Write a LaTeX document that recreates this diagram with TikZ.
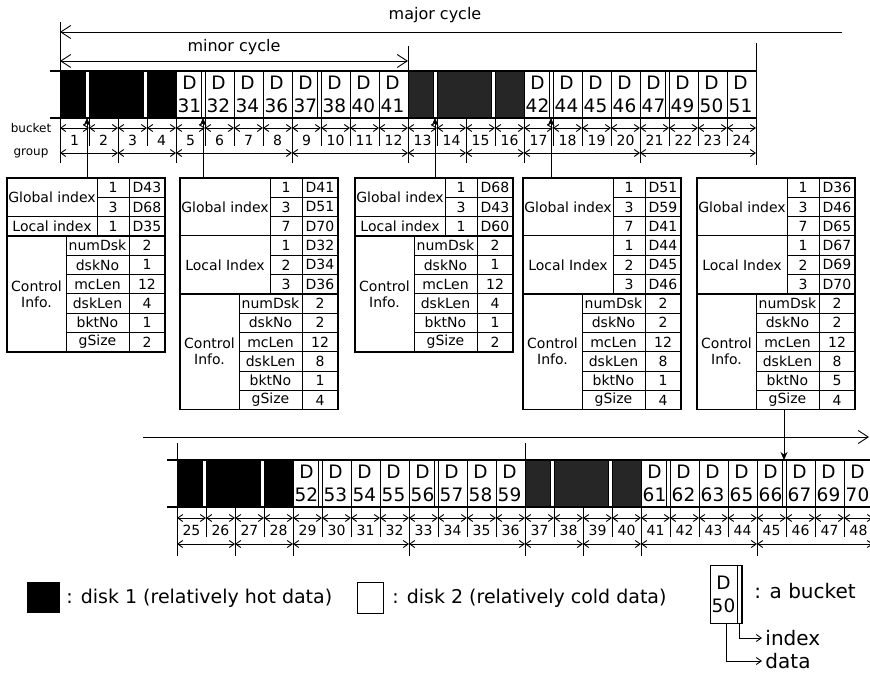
\documentclass[tikz,border=0pt]{standalone}
\usepackage{fontspec}
\setmainfont{DejaVu Sans}
\usetikzlibrary{arrows.meta,positioning}

\newcommand{\rowh}{19.3}
% one index table: name, left edge, global rows, local rows, global, local, control values
\newcommand{\infotab}[7]{%
  \begin{scope}[shift={(#2,178)}]
    \pgfmathsetmacro{\yl}{#3*\rowh}
    \pgfmathsetmacro{\yc}{(#3+#4)*\rowh}
    \pgfmathsetmacro{\yb}{(#3+#4+6)*\rowh}
    \node[tb, minimum height=\yb pt] (#1) at (0,0) {};
    \draw (0,\yl) -- (158,\yl) (90,0) -- (90,\yc) (122,0) -- (122,\yb) (59,\yc) -- (59,\yb);
    \draw[line width=1.6pt] (0,\yc) -- (158,\yc);
    \node (#1gl) at (45,\yl/2) {Global index};
    \node (#1ll) at (45,{(\yl+\yc)/2}) {\ifnum#4=1 Local index\else Local Index\fi};
    \node[align=center] (#1cl) at (29.5,{(\yc+\yb)/2}) {Control\\Info.};
    \foreach \ix/\dv [count=\j] in {#5} {
      \node (#1g\j) at (106,{(\j-0.5)*\rowh}) {\ix};
      \node (#1gv\j) at (140,{(\j-0.5)*\rowh}) {\dv};
      \ifnum\j>1 \draw (90,{(\j-1)*\rowh}) -- (158,{(\j-1)*\rowh}); \fi
    }
    \foreach \ix/\dv [count=\j] in {#6} {
      \node (#1l\j) at (106,{\yl+(\j-0.5)*\rowh}) {\ix};
      \node (#1lv\j) at (140,{\yl+(\j-0.5)*\rowh}) {\dv};
      \ifnum\j>1 \draw (90,{\yl+(\j-1)*\rowh}) -- (158,{\yl+(\j-1)*\rowh}); \fi
    }
    \foreach \pn [count=\j] in {numDsk,dskNo,mcLen,dskLen,bktNo,gSize} {
      \node (#1p\j) at (90.5,{\yc+(\j-0.5)*\rowh}) {\pn};
      \ifnum\j>1 \draw (59,{\yc+(\j-1)*\rowh}) -- (158,{\yc+(\j-1)*\rowh}); \fi
    }
    \foreach \dv [count=\j] in {#7}
      \node (#1v\j) at (140,{\yc+(\j-0.5)*\rowh}) {\dv};
  \end{scope}}

\begin{document}
\begin{tikzpicture}[x=1pt, y=-1pt, line width=0.9pt, font=\fontsize{14}{16}\selectfont,
  >={Straight Barb[length=5pt,width=7pt]},
  bigtip/.tip={Straight Barb[length=10pt,width=13pt]},
  hot/.style={fill=black, minimum height=47pt, inner sep=0pt, outer sep=0pt, anchor=north west},
  cold/.style={draw, line width=0.7pt, minimum width=29pt, minimum height=47pt, inner sep=0pt, outer sep=0pt, anchor=north west},
  slot/.style={draw, line width=0.7pt, fill=white, minimum width=4pt, minimum height=47pt, inner sep=0pt, outer sep=0pt, anchor=north west},
  dl/.style={align=center, inner sep=0pt, font=\fontsize{18.5}{23}\selectfont},
  bn/.style={inner sep=1pt, font=\fontsize{14}{14}\selectfont},
  tb/.style={draw, line width=1.6pt, minimum width=158pt, inner sep=0pt, outer sep=0pt, anchor=north west},
  rail/.style={line width=2.8pt},
  leg/.style={font=\fontsize{19}{21}\selectfont, inner sep=1pt, anchor=west}
]
\useasboundingbox (0,0) rectangle (870,677);

% cycles
\draw[bigtip-] (60,32) -- (842,32);
\node[font=\fontsize{16}{18}\selectfont] (major) at (435,15) {major cycle};
\draw[bigtip-bigtip] (60,61) -- (408,61);
\node[font=\fontsize{16}{18}\selectfont] (minor) at (234,47) {minor cycle};
\draw (60,22) -- (60,163) (408,46) -- (408,163) (756,43) -- (756,165);

% top strip, buckets 1-24
\node[hot, minimum width=116pt] (h1) at (60,71) {};
\node[hot, minimum width=116pt, fill=black!85] (h2) at (408,71) {};
\foreach \b/\dn in {5/31,6/32,7/34,8/36,9/37,10/38,11/40,12/41,17/42,18/44,19/45,20/46,21/47,22/49,23/50,24/51} {
  \node[cold] (b\b) at ({60+(\b-1)*29},71) {};
  \node[dl] (d\b) at ({60+(\b-1)*29+13.5},94.5) {D\\\dn};
}
\foreach \b in {1,3,5,9,13,15,17,21}
  \node[slot] (i\b) at ({60+\b*29-4},71) {};
\draw[rail] (50,71) -- (756,71) (50,118) -- (756,118);
\node[font=\fontsize{12}{12}\selectfont] (bkt) at (31,128) {bucket};
\node[font=\fontsize{12}{12}\selectfont] (grp) at (31,153) {group};
\foreach \b in {1,...,24} {
  \draw[<->] ({60+(\b-1)*29},128) -- ({60+\b*29},128);
  \draw[line width=0.5pt] ({60+\b*29},118) -- ({60+\b*29},146);
  \node[bn] (n\b) at ({60+(\b-0.5)*29},140) {\b};
}
\foreach \l/\r in {60/118,118/176,176/292,292/408,408/466,466/524,524/640,640/756} {
  \draw[<->] (\l,153) -- (\r,153);
  \draw (\r,118) -- (\r,163);
}

% index tables
\infotab{t1}{7}{2}{1}{1/D43,3/D68}{1/D35}{2,1,12,4,1,2}
\infotab{t2}{180}{3}{3}{1/D41,3/D51,7/D70}{1/D32,2/D34,3/D36}{2,2,12,8,1,4}
\infotab{t3}{355}{2}{1}{1/D68,3/D43}{1/D60}{2,1,12,4,1,2}
\infotab{t4}{523}{3}{3}{1/D51,3/D59,7/D41}{1/D44,2/D45,3/D46}{2,2,12,8,1,4}
\infotab{t5}{697}{3}{3}{1/D36,3/D46,7/D65}{1/D67,2/D69,3/D70}{2,2,12,8,5,4}
\draw[-{Stealth[length=8pt,width=7pt]}] (t1.north -| i1) -- (i1.south);
\draw[-{Stealth[length=8pt,width=7pt]}] (t2.north -| i5) -- (i5.south);
\draw[-{Stealth[length=8pt,width=7pt]}] (t3.north -| i13) -- (i13.south);
\draw[-{Stealth[length=8pt,width=7pt]}] (t4.north -| i17) -- (i17.south);

% bottom strip, buckets 25-48
\draw[-bigtip] (143,437) -- (869,437);
\draw (177,443) -- (177,556) (525,443) -- (525,556);
\node[hot, minimum width=116pt] (h3) at (177,460) {};
\node[hot, minimum width=116pt, fill=black!85] (h4) at (525,460) {};
\foreach \b/\dn in {29/52,30/53,31/54,32/55,33/56,34/57,35/58,36/59,41/61,42/62,43/63,44/65,45/66,46/67,47/69,48/70} {
  \node[cold] (b\b) at ({177+(\b-25)*29},460) {};
  \node[dl] (d\b) at ({177+(\b-25)*29+13.5},483.5) {D\\\dn};
}
\foreach \b in {25,27,29,33,37,39,41,45}
  \node[slot] (i\b) at ({177+(\b-24)*29-4},460) {};
\draw[rail] (167,460) -- (870,460) (167,507) -- (870,507);
\foreach \b in {25,...,48} {
  \draw[<->] ({177+(\b-25)*29},518) -- ({177+(\b-24)*29},518);
  \draw[line width=0.5pt] ({177+(\b-24)*29},507) -- ({177+(\b-24)*29},537);
  \node[bn] (n\b) at ({177+(\b-24.5)*29},530) {\b};
}
\foreach \l/\r in {177/235,235/293,293/409,409/525,525/583,583/641,641/757,757/873} {
  \draw[<->] (\l,544) -- (\r,544);
  \draw (\r,507) -- (\r,556);
}
\draw[-{Stealth[length=8pt,width=7pt]}] (t5.south -| i45) -- (i45.north);

% legend
\node[fill=black, minimum width=33pt, minimum height=31pt, inner sep=0pt, anchor=north west] (k1) at (27,582) {};
\node[leg, right=4pt of k1] (k1t) {: disk 1 (relatively hot data)};
\node[draw, minimum width=26pt, minimum height=31pt, inner sep=0pt, anchor=north west] (k2) at (357,582) {};
\node[leg, right=7pt of k2] (k2t) {: disk 2 (relatively cold data)};
\node[draw, minimum width=32pt, minimum height=58pt, inner sep=0pt, anchor=north west] (kb) at (710,565) {};
\node[slot, minimum height=58pt] (ki) at (737,565) {};
\node[dl] (kd) at (723.5,594) {D\\50};
\node[leg, font=\fontsize{20}{22}\selectfont] (kt) at (753,591) {: a bucket};
\node[leg, font=\fontsize{20}{22}\selectfont, inner sep=3pt] (kx) at (762,638) {index};
\node[leg, font=\fontsize{20}{22}\selectfont, inner sep=3pt] (ky) at (762,661) {data};
\draw[->] (ki.south) |- (kx.west);
\draw[->] (kb.south) |- (ky.west);
\end{tikzpicture}
\end{document}
